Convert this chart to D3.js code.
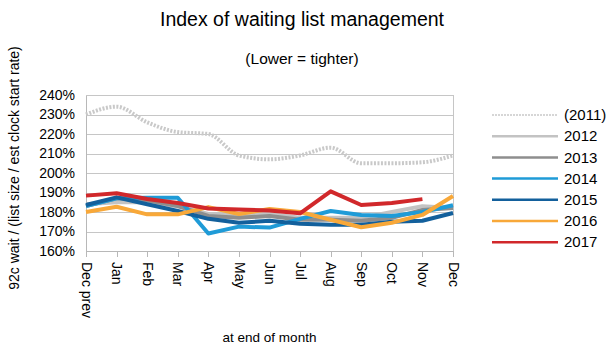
<!DOCTYPE html>
<html>
<head>
<meta charset="utf-8">
<script src="https://cdn.jsdelivr.net/npm/d3@7"></script>
<style>
    body { margin: 0; background: #ffffff; }
    svg { display: block; font-family: "Liberation Sans", Arial, sans-serif; }
</style>
</head>
<body>
<div id="chart"></div>
<script>

/* Data -------------------------------------------------------------------- */

const months = ["Dec prev", "Jan", "Feb", "Mar", "Apr", "May", "Jun",
    "Jul", "Aug", "Sep", "Oct", "Nov", "Dec"];

const yTicks = [1.6, 1.7, 1.8, 1.9, 2.0, 2.1, 2.2, 2.3, 2.4];

const seriesNames = ["(2011)", "2012", "2013", "2014", "2015", "2016", "2017"];

const values2011 = [2.30, 2.34, 2.26, 2.21, 2.20, 2.09, 2.07, 2.09, 2.13, 2.05, 2.05, 2.055, 2.09];
const values2012 = [1.84, 1.85, 1.85, 1.83, 1.79, 1.79, 1.79, 1.77, 1.77, 1.77, 1.80, 1.83, 1.82];
const values2013 = [1.83, 1.87, 1.86, 1.83, 1.78, 1.77, 1.78, 1.76, 1.76, 1.755, 1.77, 1.81, 1.82];
const values2014 = [1.83, 1.87, 1.873, 1.873, 1.69, 1.725, 1.72, 1.765, 1.805, 1.785, 1.78, 1.80, 1.835];
const values2015 = [1.836, 1.875, 1.84, 1.805, 1.765, 1.745, 1.755, 1.74, 1.735, 1.735, 1.75, 1.755, 1.795];
const values2016 = [1.80, 1.827, 1.788, 1.788, 1.825, 1.79, 1.815, 1.80, 1.76, 1.722, 1.745, 1.785, 1.882];
const values2017 = [1.884, 1.896, 1.867, 1.846, 1.818, 1.813, 1.808, 1.793, 1.906, 1.836, 1.846, 1.866, null];

const seriesValues = [values2011, values2012, values2013, values2014,
    values2015, values2016, values2017];

const seriesColors = ["#c9c9c9", "#c3c3c3", "#8e8e8e", "#1f9bd7",
    "#13609c", "#f8a839", "#d1282b"];

/* Draw graphic ------------------------------------------------------------ */

function drawGraphic() {

    const svgWidth = 614;
    const svgHeight = 353;
    const margin = {top: 95, right: 161, bottom: 102, left: 86};
    const width = svgWidth - margin.left - margin.right;
    const height = svgHeight - margin.top - margin.bottom;
    const font = "\"Liberation Sans\", Arial, sans-serif";

    const xScale = d3.scalePoint()
        .domain(months)
        .range([0, width]);

    const yScale = d3.scaleLinear()
        .domain([1.6, 2.4])
        .range([height, 0]);

    const vis = d3.select("#chart")
        .append("svg")
        .attr("width", svgWidth)
        .attr("height", svgHeight);

    vis.append("rect")
        .attr("width", svgWidth)
        .attr("height", svgHeight)
        .attr("fill", "#ffffff");

    // Title
    vis.append("text")
        .attr("x", 302)
        .attr("y", 26)
        .style("text-anchor", "middle")
        .style("font-size", "19.5px")
        .style("fill", "#000")
        .text("Index of waiting list management");

    // Subtitle
    vis.append("text")
        .attr("x", 302)
        .attr("y", 64)
        .style("text-anchor", "middle")
        .style("font-size", "15.5px")
        .style("fill", "#000")
        .text("(Lower = tighter)");

    const canvas = vis.append("g")
        .attr("transform", `translate(${margin.left},${margin.top})`);

    // Gridlines
    canvas.append("g")
        .attr("class", "grid")
        .call(d3.axisLeft(yScale)
            .tickValues(yTicks)
            .tickSize(-width)
            .tickFormat(""));

    canvas.select(".grid path").remove();
    canvas.selectAll(".grid line")
        .style("stroke", "#c6c6c6")
        .style("shape-rendering", "crispEdges");

    // Right border
    canvas.append("line")
        .attr("x1", width).attr("x2", width)
        .attr("y1", 0).attr("y2", height)
        .style("stroke", "#c6c6c6")
        .style("shape-rendering", "crispEdges");

    // Y-axis
    const yAxis = canvas.append("g")
        .attr("class", "yaxis")
        .call(d3.axisLeft(yScale)
            .tickValues(yTicks)
            .tickSize(0)
            .tickPadding(11)
            .tickFormat(d3.format(".0%")));

    yAxis.select("path")
        .style("stroke", "#b8b8b8")
        .style("shape-rendering", "crispEdges");

    yAxis.selectAll("text")
        .style("font-size", "14px")
        .style("font-family", font)
        .style("fill", "#000");

    // X-axis
    const xAxis = canvas.append("g")
        .attr("class", "xaxis")
        .attr("transform", `translate(0,${height})`)
        .call(d3.axisBottom(xScale).tickSize(6).tickSizeOuter(0));

    xAxis.select("path")
        .style("stroke", "#b8b8b8")
        .style("shape-rendering", "crispEdges");

    xAxis.selectAll("line")
        .style("stroke", "#b8b8b8")
        .style("shape-rendering", "crispEdges");

    xAxis.selectAll("text")
        .attr("transform", "rotate(90)")
        .attr("x", 11)
        .attr("y", 0)
        .attr("dy", "0.35em")
        .style("text-anchor", "start")
        .style("font-size", "14px")
        .style("font-family", font)
        .style("fill", "#000");

    // X-axis title
    vis.append("text")
        .attr("x", margin.left + width / 2)
        .attr("y", 342)
        .style("text-anchor", "middle")
        .style("font-size", "13.5px")
        .style("fill", "#000")
        .text("at end of month");

    // Y-axis title
    vis.append("text")
        .attr("transform", "translate(19,168) rotate(-90)")
        .style("text-anchor", "middle")
        .style("font-size", "14px")
        .style("fill", "#000")
        .text("92c wait / (list size / est clock start rate)");

    // Lines
    seriesValues.forEach((values, i) => {
        const line = d3.line()
            .defined(d => d !== null)
            .x((d, j) => xScale(months[j]))
            .y(d => yScale(d));

        // The (2011) series is drawn smoothed and dotted
        if (i === 0) line.curve(d3.curveMonotoneX);

        canvas.append("path")
            .datum(values)
            .attr("fill", "none")
            .attr("stroke", seriesColors[i])
            .attr("stroke-width", 4)
            .attr("stroke-linejoin", "round")
            .attr("stroke-dasharray", i === 0 ? "2,1.5" : null)
            .attr("d", line);
    });

    // Legend
    const legend = vis.append("g")
        .attr("transform", "translate(492,115)");

    seriesNames.forEach((name, i) => {
        const row = legend.append("g")
            .attr("transform", `translate(0,${i * 21.2})`);

        row.append("line")
            .attr("x1", 0).attr("x2", 66)
            .attr("y1", 0).attr("y2", 0)
            .attr("stroke", seriesColors[i])
            .attr("stroke-width", i === 0 ? 1.5 : 2.5)
            .attr("stroke-dasharray", i === 0 ? "2,1" : null);

        row.append("text")
            .attr("x", 72)
            .attr("y", 0)
            .attr("dy", "0.35em")
            .style("font-size", "15px")
            .style("fill", "#000")
            .text(name);
    });
}

drawGraphic();
</script>
</body>
</html>
